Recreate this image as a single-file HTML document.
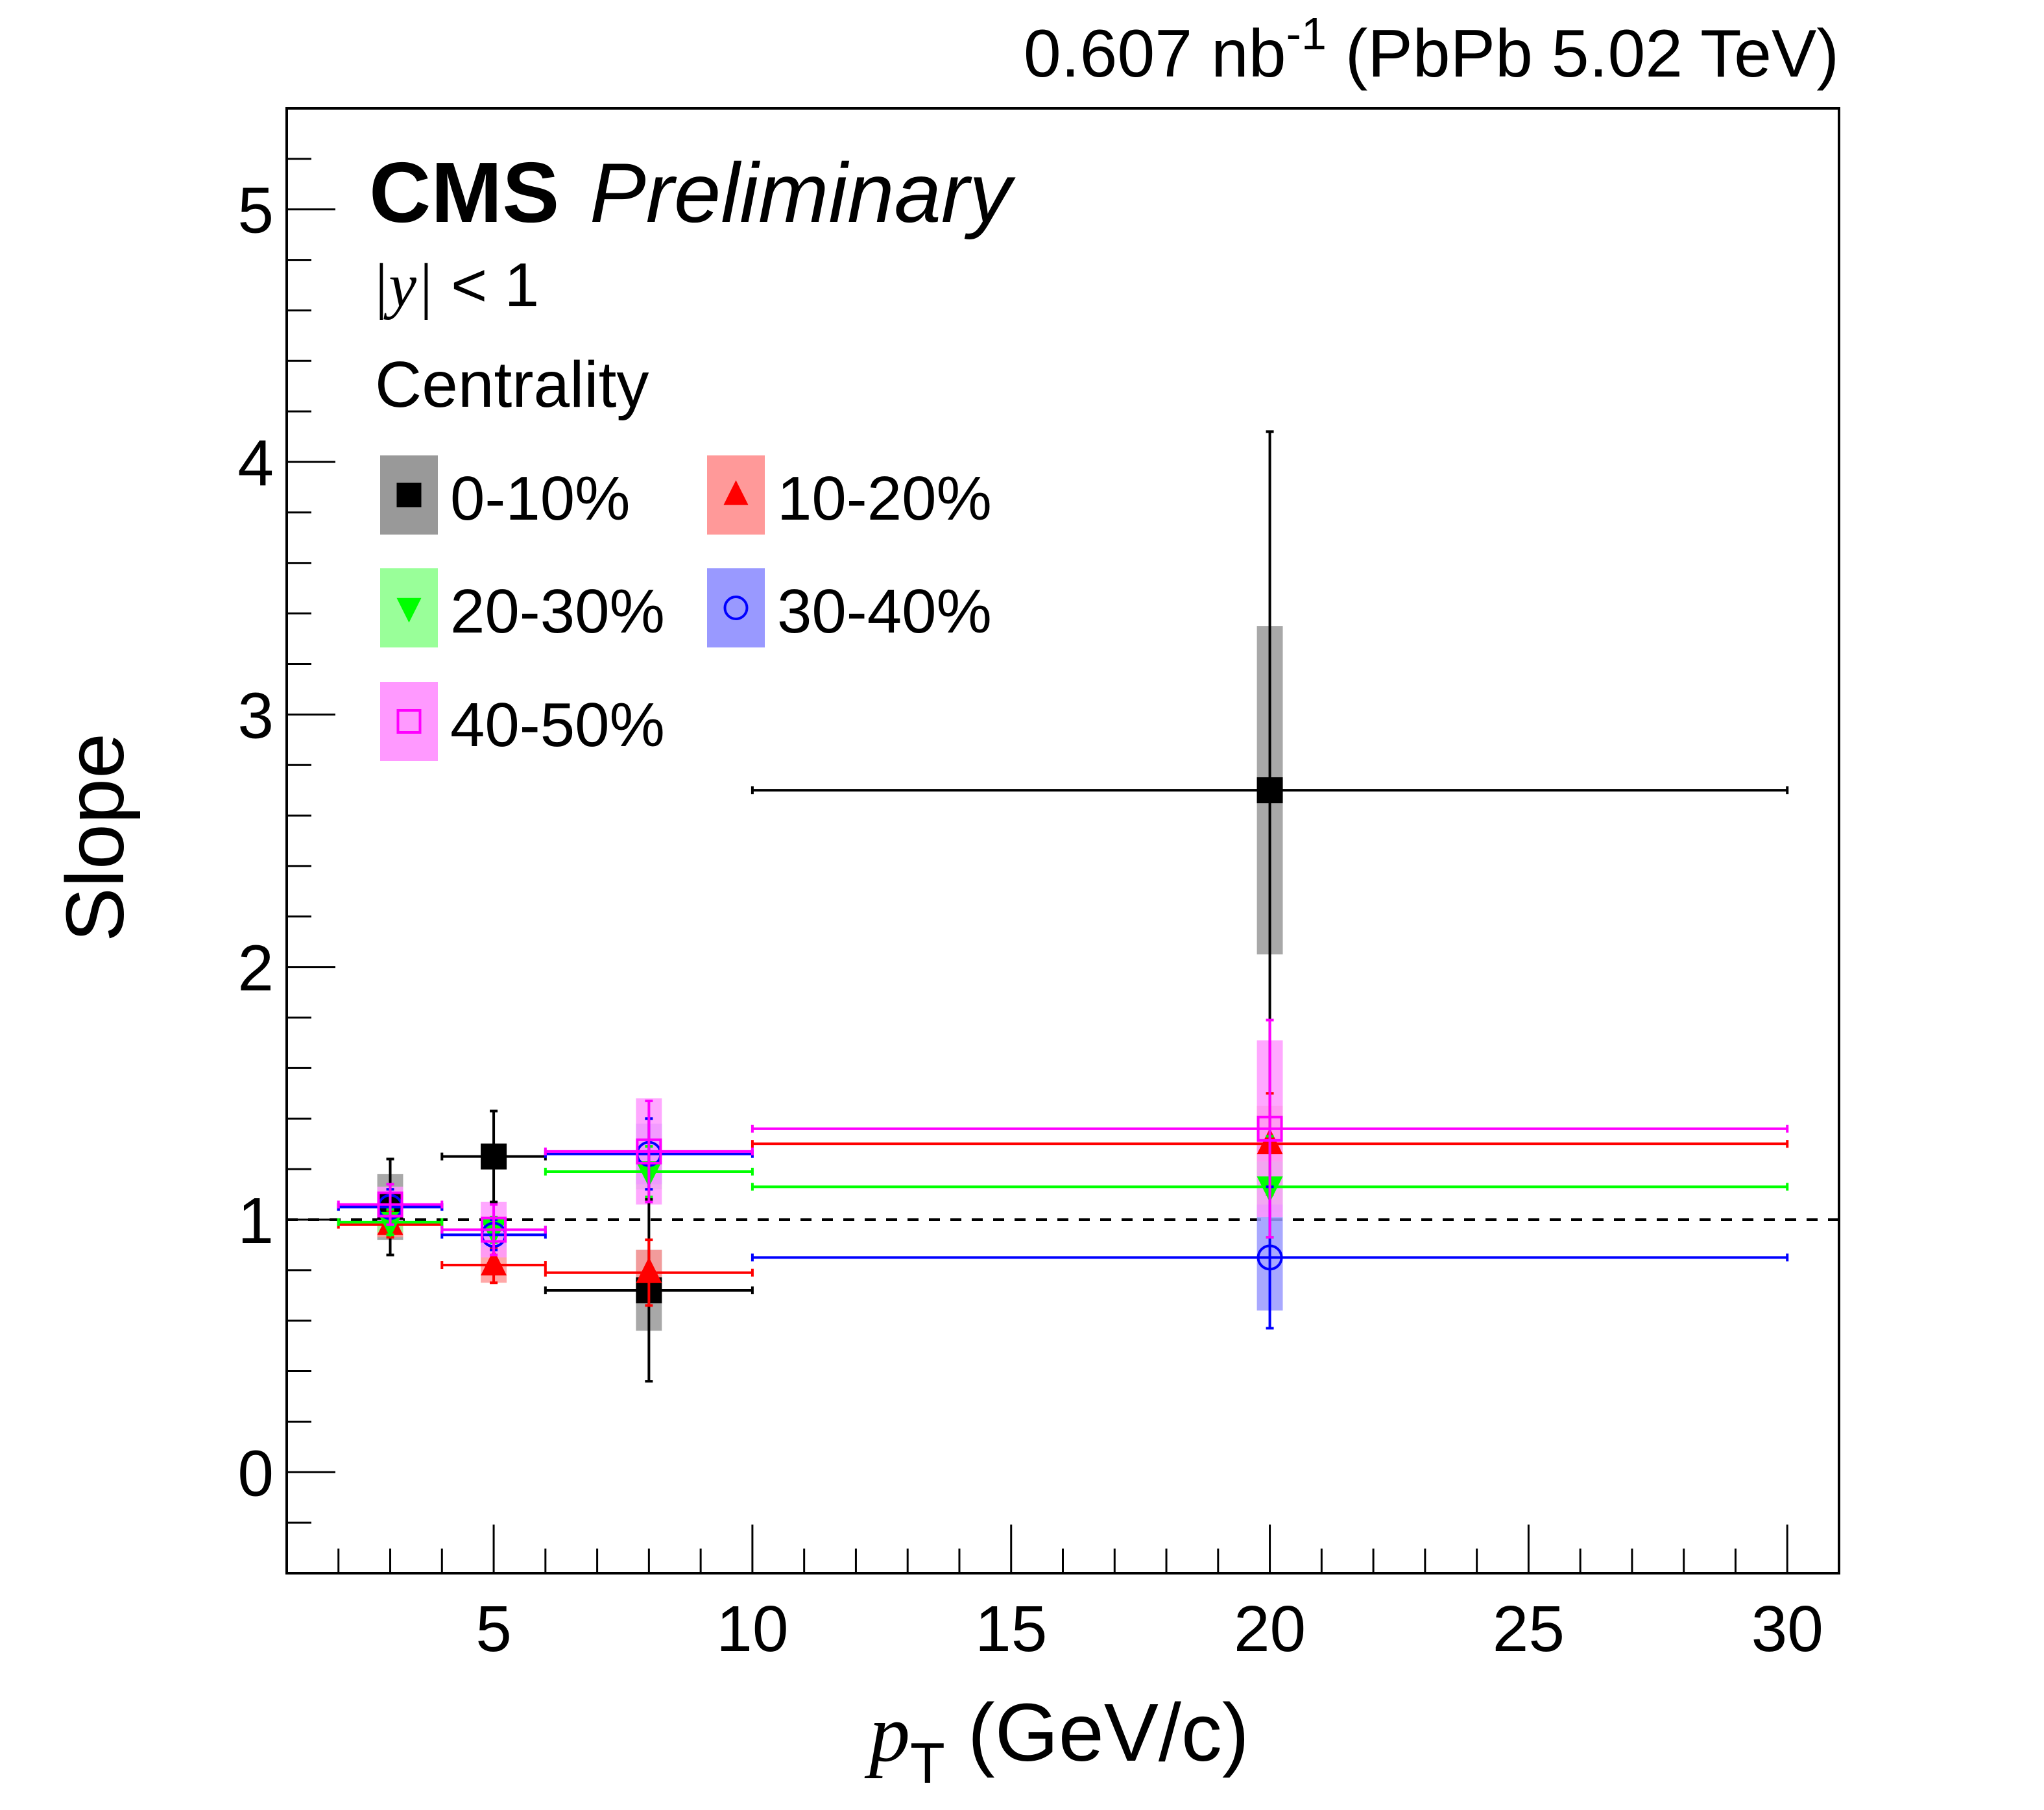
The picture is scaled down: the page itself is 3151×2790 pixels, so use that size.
<!DOCTYPE html>
<html><head><meta charset="utf-8"><style>
html,body{margin:0;padding:0;background:#fff;}
svg{display:block;font-family:"Liberation Sans",sans-serif;}
</style></head><body>
<svg id="chart" width="3151" height="2790" viewBox="0 0 3151 2790" xmlns="http://www.w3.org/2000/svg">
<rect x="0" y="0" width="3151" height="2790" fill="#fff"/>
<text x="2835" y="118" font-size="104" text-anchor="end">0.607 nb<tspan font-size="70" dy="-42">-1</tspan><tspan dy="42"> (PbPb 5.02 TeV)</tspan></text>
<g id="plot"></g>
<text x="569" y="342" font-size="132" font-weight="bold">CMS</text>
<text x="909" y="342" font-size="130" font-style="italic">Preliminary</text>
<text x="573" y="472" font-size="96"><tspan font-family="Liberation Serif" font-style="italic">|y|</tspan> &lt; 1</text>
<text x="578" y="627" font-size="100">Centrality</text>
<g id="legend"></g>
<text transform="translate(190,1291) rotate(-90)" font-size="126" text-anchor="middle">Slope</text>
<text x="1340" y="2714" font-size="126"><tspan font-family="Liberation Serif" font-style="italic">p</tspan><tspan font-size="88" dy="34">T</tspan><tspan dy="-34"> (GeV/c)</tspan></text>
</svg>
<script>
const categories = ["0-10%","10-20%","20-30%","30-40%","40-50%"];
const xCenters = [3,5,8,20];
const xLow = [2,4,6,10];
const xHigh = [4,6,10,30];
const yC0 = [1.05,1.25,0.72,2.70];
const yC1 = [0.98,0.82,0.79,1.30];
const yC2 = [0.99,0.96,1.19,1.13];
const yC3 = [1.05,0.94,1.26,0.85];
const yC4 = [1.06,0.96,1.27,1.36];
const statC0 = [0.19,0.18,0.36,1.42];
const statC1 = [0.05,0.07,0.13,0.20];
const statC2 = [0.05,0.05,0.10,0.20];
const statC3 = [0.07,0.06,0.14,0.28];
const statC4 = [0.08,0.10,0.20,0.43];
const sysC0 = [0.13,0.05,0.16,0.65];
const sysC1 = [0.05,0.07,0.09,0.15];
const sysC2 = [0.04,0.04,0.07,0.10];
const sysC3 = [0.06,0.05,0.12,0.21];
const sysC4 = [0.07,0.11,0.21,0.35];
const xTicksMajor = [5,10,15,20,25,30];
const yTicksMajor = [0,1,2,3,4,5];

const NS="http://www.w3.org/2000/svg";
const L=442,R=2835,T=167,B=2425, XMIN=1,XMAX=31,YMIN=-0.4,YMAX=5.4;
const sx=v=>L+(v-XMIN)/(XMAX-XMIN)*(R-L);
const sy=v=>B-(v-YMIN)/(YMAX-YMIN)*(B-T);
function mk(parent,tag,attrs){const e=document.createElementNS(NS,tag);for(const k in attrs)e.setAttribute(k,attrs[k]);parent.appendChild(e);return e;}
const plot=document.getElementById('plot');
const colors=["#000000","#ff0000","#00ff00","#0000ff","#ff00ff"];
const fills=["#999999","#ff9999","#99ff99","#9999ff","#ff99ff"];
const yS=[yC0,yC1,yC2,yC3,yC4], stS=[statC0,statC1,statC2,statC3,statC4], syS=[sysC0,sysC1,sysC2,sysC3,sysC4];

const frame=mk(plot,'rect',{x:L,y:T,width:R-L,height:B-T,fill:'none',stroke:'#000','stroke-width':4});


for(let v=2;v<=30;v++){
  const major=xTicksMajor.includes(v);
  const t=mk(plot,'line',{x1:sx(v),x2:sx(v),y1:B,y2:B-(major?75:38),stroke:'#000','stroke-width':3});
  
  
}
xTicksMajor.forEach(v=>{
  const t=mk(plot,'text',{x:sx(v),y:2545,'font-size':100,'text-anchor':'middle'});t.textContent=v;
  
  
});
for(let k=-3;k<=5*5+1;k++){
  const v=k*0.2; if(v<YMIN-1e-9||v>YMAX+1e-9) continue;
  const major=Math.abs(v-Math.round(v))<1e-9;
  const t=mk(plot,'line',{x1:L,x2:L+(major?75:38),y1:sy(v),y2:sy(v),stroke:'#000','stroke-width':3});
  
  
}
yTicksMajor.forEach(v=>{
  const t=mk(plot,'text',{x:422,y:sy(v)+36,'font-size':100,'text-anchor':'end'});t.textContent=v;
  
  
});
const ref=mk(plot,'line',{x1:L,x2:R,y1:sy(1),y2:sy(1),stroke:'#000','stroke-width':4,'stroke-dasharray':'17,16'});



function marker(g,i,cx,cy,s){
  const c=colors[i];let m;
  if(i===0) m=mk(g,'rect',{x:cx-s/2,y:cy-s/2,width:s,height:s,fill:c});
  else if(i===1) m=mk(g,'polygon',{points:`${cx},${cy-s*0.6} ${cx-s*0.5},${cy+s*0.4} ${cx+s*0.5},${cy+s*0.4}`,fill:c});
  else if(i===2) m=mk(g,'polygon',{points:`${cx},${cy+s*0.6} ${cx-s*0.5},${cy-s*0.4} ${cx+s*0.5},${cy-s*0.4}`,fill:c});
  else if(i===3) m=mk(g,'circle',{cx:cx,cy:cy,r:s/2-2,fill:'none',stroke:c,'stroke-width':4});
  else m=mk(g,'rect',{x:cx-s/2+2,y:cy-s/2+2,width:s-4,height:s-4,fill:'none',stroke:c,'stroke-width':4});
  return m;
}
for(let i=0;i<5;i++){
  const g=mk(plot,'g',{});
  
  
  xCenters.forEach((x,j)=>{
    const y=yS[i][j],s=syS[i][j];
    const r=mk(g,'rect',{x:sx(x-0.25),y:sy(y+s),width:sx(x+0.25)-sx(x-0.25),height:sy(y-s)-sy(y+s),fill:fills[i],'fill-opacity':0.85});
    
    
  });
}
for(let i=0;i<5;i++){
  const g=mk(plot,'g',{});
  
  
  xCenters.forEach((x,j)=>{
    const y=yS[i][j],e=stS[i][j],c=colors[i];
    mk(g,'line',{x1:sx(xLow[j]),x2:sx(xHigh[j]),y1:sy(y),y2:sy(y),stroke:c,'stroke-width':4});
    mk(g,'line',{x1:sx(xLow[j]),x2:sx(xLow[j]),y1:sy(y)-6,y2:sy(y)+6,stroke:c,'stroke-width':4});
    mk(g,'line',{x1:sx(xHigh[j]),x2:sx(xHigh[j]),y1:sy(y)-6,y2:sy(y)+6,stroke:c,'stroke-width':4});
    mk(g,'line',{x1:sx(x),x2:sx(x),y1:sy(y+e),y2:sy(y-e),stroke:c,'stroke-width':4});
    mk(g,'line',{x1:sx(x)-6,x2:sx(x)+6,y1:sy(y+e),y2:sy(y+e),stroke:c,'stroke-width':4});
    mk(g,'line',{x1:sx(x)-6,x2:sx(x)+6,y1:sy(y-e),y2:sy(y-e),stroke:c,'stroke-width':4});
    const m=marker(g,i,sx(x),sy(y),40);
    
    
  });
}
const lg=document.getElementById('legend');
const pos=[[586,702],[1090,702],[586,876],[1090,876],[586,1051]];
categories.forEach((c,i)=>{
  const g=mk(lg,'g',{});
  
  
  const [x,y]=pos[i];
  mk(g,'rect',{x:x,y:y,width:89,height:122,fill:fills[i]});
  marker(g,i,x+44.5,y+61,38);
  const t=mk(g,'text',{x:x+108,y:y+99,'font-size':96});t.textContent=c;
});
</script>
</body></html>
